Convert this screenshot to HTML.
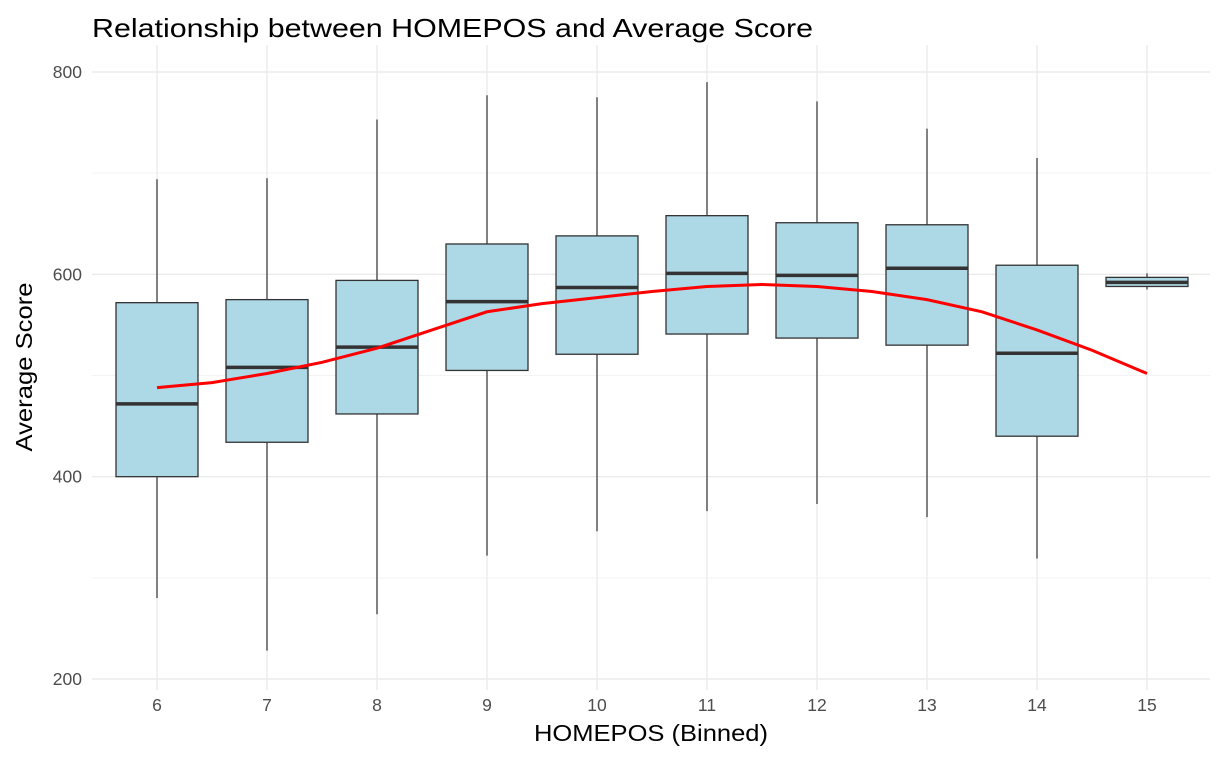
<!DOCTYPE html>
<html><head><meta charset="utf-8"><style>
body{margin:0;background:#fff;font-family:"Liberation Sans",sans-serif}
</style></head><body>
<svg id="c" width="1225" height="757" xmlns="http://www.w3.org/2000/svg"></svg>
<script>
const categories=[6,7,8,9,10,11,12,13,14,15];
const whiskerHigh=[694,695,753,777,775,790,771,744,715,601];
const q3=[572,575,594,630,638,658,651,649,609,597];
const medians=[472,508,528,573,587,601,599,606,522,592];
const q1=[400,434,462,505,521,541,537,530,440,588];
const whiskerLow=[280,228,264,322,346,366,373,360,319,585];
const smoothX=[6,6.5,7,7.5,8,8.5,9,9.5,10,10.5,11,11.5,12,12.5,13,13.5,14,14.5,15];
const smoothY=[488,493,502,513,527,545,563,571,577,583,588,590,588,583,575,563,545,525,502];
const yTicks=[200,400,600,800];
const yMinor=[300,500,700];
const svg=document.getElementById('c');
const NS='http://www.w3.org/2000/svg';
const L=92,R=1210,T=45,B=690;
const x=v=>157+(v-6)*110;
const y=v=>679-(v-200)*(607/600);
function add(tag,attrs,name){const e=document.createElementNS(NS,tag);for(const k in attrs)e.setAttribute(k,attrs[k]);


svg.appendChild(e);return e;}
yMinor.forEach(v=>add('line',{x1:L,x2:R,y1:y(v),y2:y(v),stroke:'#f3f3f3','stroke-width':1},'y-minor-gridline'));
yTicks.forEach(v=>{add('line',{x1:L,x2:R,y1:y(v),y2:y(v),stroke:'#ebebeb','stroke-width':1.4},'y-gridline');
const t=add('text',{x:82,y:y(v)+6,'text-anchor':'end','font-size':17.5,fill:'#4d4d4d'},'y-tick-label');t.textContent=v;});
categories.forEach(c=>{add('line',{x1:x(c),x2:x(c),y1:T,y2:B,stroke:'#ebebeb','stroke-width':1.4},'x-gridline');
const t=add('text',{x:x(c),y:711,'text-anchor':'middle','font-size':17.5,fill:'#4d4d4d'},'x-tick-label');t.textContent=c;});
const hw=41;
categories.forEach((c,i)=>{const cx=x(c);
add('line',{x1:cx,x2:cx,y1:y(whiskerHigh[i]),y2:y(q3[i]),stroke:'#333','stroke-width':1.2},'whisker-upper');
add('line',{x1:cx,x2:cx,y1:y(q1[i]),y2:y(whiskerLow[i]),stroke:'#333','stroke-width':1.2},'whisker-lower');
add('rect',{x:cx-hw,y:y(q3[i]),width:2*hw,height:y(q1[i])-y(q3[i]),fill:'#add8e6',stroke:'#333','stroke-width':1.3},'box-'+c);
add('line',{x1:cx-hw,x2:cx+hw,y1:y(medians[i]),y2:y(medians[i]),stroke:'#333','stroke-width':3.5},'median-'+c);});
add('polyline',{points:smoothX.map((v,i)=>x(v)+','+y(smoothY[i])).join(' '),fill:'none',stroke:'#ff0000','stroke-width':3},'smooth-line');
let t=add('text',{x:92,y:37,'font-size':26,fill:'#000',textLength:721,lengthAdjust:'spacingAndGlyphs'},'chart-title');t.textContent='Relationship between HOMEPOS and Average Score';
t=add('text',{x:651,y:741,'text-anchor':'middle','font-size':23,fill:'#000',textLength:234,lengthAdjust:'spacingAndGlyphs'},'x-axis-title');t.textContent='HOMEPOS (Binned)';
t=add('text',{x:0,y:0,'text-anchor':'middle','font-size':23,fill:'#000',textLength:169,lengthAdjust:'spacingAndGlyphs',transform:'translate(32,367) rotate(-90)'},'y-axis-title');t.textContent='Average Score';
</script>
</body></html>
